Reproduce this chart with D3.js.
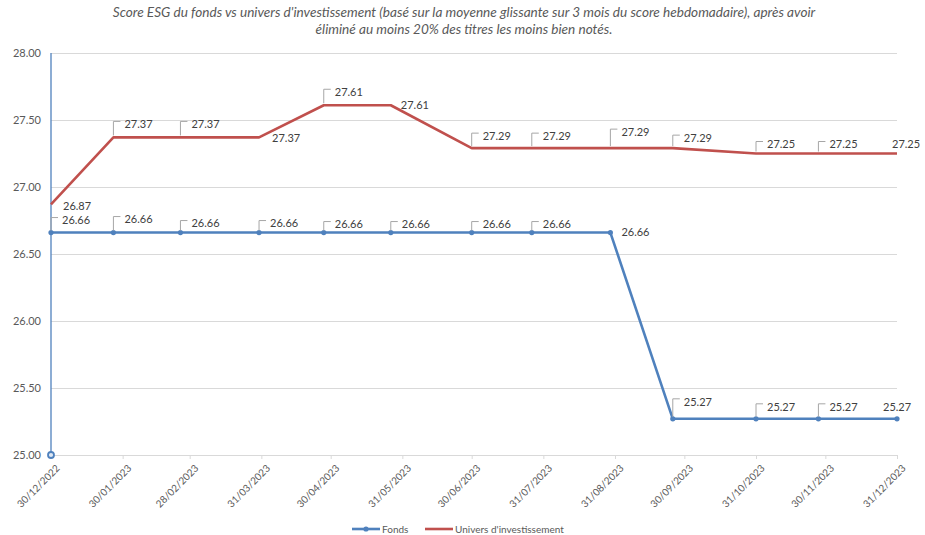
<!DOCTYPE html>
<html>
<head>
<meta charset="utf-8">
<script src="https://cdn.jsdelivr.net/npm/d3@7"></script>
<style>
  html, body { margin: 0; padding: 0; background: #fff; }
  svg { display: block; font-family: Lato, "Open Sans", sans-serif; }
</style>
</head>
<body>
<svg id="chart" width="925" height="535"></svg>
<script>
// ---------------- DATA ----------------
const titleLines = [
  "Score ESG du fonds vs univers d'investissement (basé sur la moyenne glissante sur 3 mois du score hebdomadaire), après avoir",
  "éliminé au moins 20% des titres les moins bien notés."
];
const pointDates = ["2022-12-30","2023-01-26","2023-02-24","2023-03-30","2023-04-27","2023-05-26",
  "2023-06-30","2023-07-26","2023-08-29","2023-09-25","2023-10-31","2023-11-27","2023-12-31"];
const fondsValues   = [26.66,26.66,26.66,26.66,26.66,26.66,26.66,26.66,26.66,25.27,25.27,25.27,25.27];
const universValues = [26.87,27.37,27.37,27.37,27.61,27.61,27.29,27.29,27.29,27.29,27.25,27.25,27.25];
const tickDates  = ["2022-12-30","2023-01-30","2023-02-28","2023-03-31","2023-04-30","2023-05-31",
  "2023-06-30","2023-07-31","2023-08-31","2023-09-30","2023-10-31","2023-11-30","2023-12-31"];
const tickLabels = ["30/12/2022","30/01/2023","28/02/2023","31/03/2023","30/04/2023","31/05/2023",
  "30/06/2023","31/07/2023","31/08/2023","30/09/2023","31/10/2023","30/11/2023","31/12/2023"];
const yTicks = [25.00, 25.50, 26.00, 26.50, 27.00, 27.50, 28.00];
const seriesNames = ["Fonds", "Univers d'investissement"];

// ---------------- LABEL PLACEMENT (style) ----------------
const fondsLabelPlace = [
  {m:"leader",dy:-12},{m:"leader",dy:-13},{m:"leader",dy:-9},{m:"leader",dy:-9},{m:"leader",dy:-8},
  {m:"leader",dy:-8},{m:"leader",dy:-8},{m:"leader",dy:-8},{m:"right",dx:11,dy:0},
  {m:"leader",dy:-17},{m:"leader",dy:-12},{m:"leader",dy:-12},{m:"free",dx:-14,dy:-12}];
const universLabelPlace = [
  {m:"right",dx:12,dy:2},{m:"leader",dy:-13},{m:"leader",dy:-13},{m:"right",dx:13,dy:1},{m:"leader",dy:-13},
  {m:"right",dx:10,dy:0},{m:"leader",dy:-12},{m:"leader",dy:-12},{m:"leader",dy:-16},
  {m:"leader",dy:-10},{m:"leader",dy:-9},{m:"leader",dy:-9},{m:"free",dx:-5,dy:-9}];

// ---------------- CHART ----------------
const svg = d3.select("#chart");
const parse = d3.utcParse("%Y-%m-%d");
const plotLeft = 51, plotRight = 897, plotTop = 53, plotBottom = 455;

const x = d3.scaleUtc()
  .domain([parse(tickDates[0]), parse(tickDates[tickDates.length - 1])])
  .range([plotLeft, plotRight]);
const y = d3.scaleLinear().domain([25, 28]).range([plotBottom, plotTop]);

const blue = "#4F81BD", red = "#C0504D";
const textCol = "#595959";

// title
svg.append("g").selectAll("text").data(titleLines).join("text")
  .attr("x", 464).attr("y", (d, i) => 17 + i * 17)
  .attr("text-anchor", "middle")
  .attr("font-size", 13.6).attr("font-style", "italic")
  .attr("fill", textCol).text(d => d);

// gridlines + y labels
const yAxis = d3.axisLeft(y).tickValues(yTicks).tickFormat(d3.format(".2f")).tickSize(-(plotRight - plotLeft)).tickPadding(10);
const gy = svg.append("g").attr("transform", `translate(${plotLeft},0)`).call(yAxis);
gy.select(".domain").remove();
gy.selectAll(".tick line").attr("stroke", "#d9d9d9").attr("stroke-width", 1);
gy.selectAll(".tick text").attr("fill", textCol).attr("font-size", 11)
  .attr("font-family", "Lato, 'Open Sans', sans-serif");

// x axis
const xAxis = d3.axisBottom(x).tickValues(tickDates.map(parse))
  .tickFormat((d, i) => tickLabels[i]).tickSize(4).tickSizeOuter(0);
const gx = svg.append("g").attr("transform", `translate(0,${plotBottom})`).call(xAxis);
gx.select(".domain").attr("stroke", "#d9d9d9");
gx.selectAll(".tick line").attr("stroke", "#d9d9d9");
gx.selectAll(".tick text")
  .attr("fill", textCol).attr("font-size", 10)
  .attr("font-family", "Lato, 'Open Sans', sans-serif")
  .attr("text-anchor", "end")
  .attr("dx", 0).attr("dy", 0)
  .attr("transform", "translate(4,9) rotate(-45)");

// vertical axis line (blue) with marker at the base
svg.append("line").attr("x1", plotLeft).attr("x2", plotLeft).attr("y1", plotTop).attr("y2", plotBottom)
  .attr("stroke", blue).attr("stroke-width", 1.3);
svg.append("circle").attr("cx", plotLeft).attr("cy", plotBottom).attr("r", 3)
  .attr("fill", "#dfe8f4").attr("stroke", blue).attr("stroke-width", 1.8);

// series
const dates = pointDates.map(parse);
const line = d3.line().x(d => x(d[0])).y(d => y(d[1]));
const series = [
  {name: seriesNames[0], vals: fondsValues, color: blue, place: fondsLabelPlace, marker: true},
  {name: seriesNames[1], vals: universValues, color: red, place: universLabelPlace, marker: false}
];

[series[1], series[0]].forEach(s => {
  const pts = dates.map((d, i) => [d, s.vals[i]]);
  svg.append("path").datum(pts).attr("d", line)
    .attr("fill", "none").attr("stroke", s.color).attr("stroke-width", 2.6)
    .attr("stroke-linejoin", "round");
  if (s.marker) {
    svg.append("g").selectAll("circle").data(pts).join("circle")
      .attr("cx", d => x(d[0])).attr("cy", d => y(d[1])).attr("r", 2.6)
      .attr("fill", s.color);
  }
});

// data labels
series.forEach(s => {
  const g = svg.append("g");
  dates.forEach((d, i) => {
    const px = x(d), py = y(s.vals[i]);
    const p = s.place[i];
    let tx, ty;
    if (p.m === "leader") {
      tx = px + 11; ty = py + p.dy;
      g.append("path")
        .attr("d", `M${px},${py - 2}V${ty - 3}H${px + 7}`)
        .attr("fill", "none").attr("stroke", "#a6a6a6").attr("stroke-width", 1);
    } else {
      tx = px + p.dx; ty = py + p.dy;
    }
    g.append("text").attr("x", tx).attr("y", ty).attr("dy", "0.35em")
      .attr("font-size", 11).attr("fill", "#404040")
      .text(d3.format(".2f")(s.vals[i]));
  });
});

// legend
const legend = svg.append("g").attr("transform", "translate(0,529)");
const legItems = [
  {name: seriesNames[0], color: blue, marker: true, x0: 352, x1: 380},
  {name: seriesNames[1], color: red, marker: false, x0: 425, x1: 453}
];
legItems.forEach(it => {
  legend.append("line").attr("x1", it.x0).attr("x2", it.x1).attr("y1", 0).attr("y2", 0)
    .attr("stroke", it.color).attr("stroke-width", 2.6);
  if (it.marker) legend.append("circle").attr("cx", (it.x0 + it.x1) / 2).attr("cy", 0).attr("r", 2.6).attr("fill", it.color);
  legend.append("text").attr("x", it.x1 + 2).attr("y", 0).attr("dy", "0.35em")
    .attr("font-size", 10).attr("fill", textCol).text(it.name);
});
</script>
</body>
</html>
